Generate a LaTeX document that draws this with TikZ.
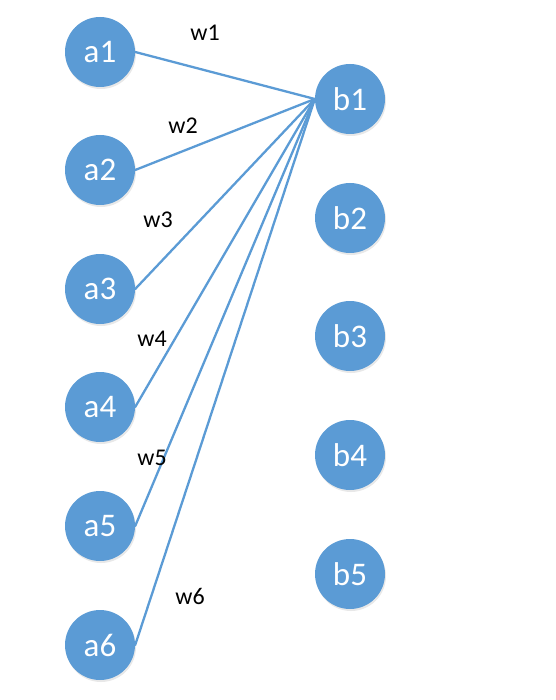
\documentclass[tikz,border=0pt]{standalone}
\usepackage{fontspec}
\setmainfont{Carlito}
\usetikzlibrary{shadows}

\begin{document}
\begin{tikzpicture}[x=1pt,y=-1pt,line cap=round,line join=round,
  unit/.style={circle,fill=netblue,minimum size=70pt,inner sep=0pt,text=white,
    font=\fontsize{33}{36}\selectfont,drop shadow={opacity=0.18,shadow xshift=1pt,shadow yshift=-2pt}},
  weight/.style={font=\fontsize{24}{26}\selectfont},
  link/.style={draw=netblue,line width=2.3pt}]
\definecolor{netblue}{HTML}{5B9BD5}
\useasboundingbox (0,0) rectangle (555,700);
\node[unit] (a1) at (100,52) {a1};
\node[unit] (a2) at (100,170) {a2};
\node[unit] (a3) at (100,289) {a3};
\node[unit] (a4) at (100,407) {a4};
\node[unit] (a5) at (100,526) {a5};
\node[unit] (a6) at (100,645) {a6};
\node[unit] (b1) at (350,99) {b1};
\node[unit] (b2) at (350,218) {b2};
\node[unit] (b3) at (350,336) {b3};
\node[unit] (b4) at (350,455) {b4};
\node[unit] (b5) at (350,574) {b5};
\path[link] (a1.east) -- (b1.west);
\path[link] (a2.east) -- (b1.west);
\path[link] (a3.east) -- (b1.west);
\path[link] (a4.east) -- (b1.west);
\path[link] (a5.east) -- (b1.west);
\path[link] (a6.east) -- (b1.west);
\node[weight] (w1) at (205,33) {w1};
\node[weight] (w2) at (183,126) {w2};
\node[weight] (w3) at (158,220) {w3};
\node[weight] (w4) at (152,339) {w4};
\node[weight] (w5) at (152,458) {w5};
\node[weight] (w6) at (190,596) {w6};
\end{tikzpicture}
\end{document}
